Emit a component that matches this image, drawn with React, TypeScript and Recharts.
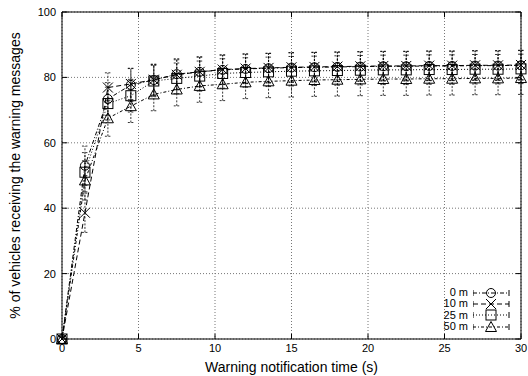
import React from 'react';
import {
  LineChart, Line, XAxis, YAxis, CartesianGrid, ErrorBar, ReferenceLine,
} from 'recharts';

// time axis (s)
const times = [0, 1.5, 3, 4.5, 6, 7.5, 9, 10.5, 12, 13.5, 15, 16.5, 18, 19.5, 21, 22.5, 24, 25.5, 27, 28.5, 30];

// % of vehicles receiving the warning, per distance
const d0 = [0, 53, 73.4, 77.7, 79.2, 81, 81.7, 82.3, 82.6, 82.8, 83, 83.1, 83.2, 83.3, 83.4, 83.4, 83.5, 83.5, 83.6, 83.6, 83.7];
const d10 = [0, 38.6, 76.9, 78, 79.3, 80.8, 81.7, 82.4, 82.7, 82.9, 83.1, 83.2, 83.3, 83.4, 83.5, 83.5, 83.6, 83.6, 83.7, 83.7, 83.8];
const d25 = [0, 51, 72, 74.4, 78.9, 79.7, 80.4, 81.2, 81.5, 81.7, 81.9, 82, 82.1, 82.2, 82.3, 82.3, 82.4, 82.4, 82.5, 82.5, 82.6];
const d50 = [0, 48.5, 67.5, 71.2, 74.8, 76.3, 77.4, 77.9, 78.5, 78.8, 79, 79.2, 79.3, 79.4, 79.5, 79.5, 79.6, 79.6, 79.7, 79.7, 79.8];

// error bar half-widths
const e0 = [0, 6, 5, 5, 4.8, 4.7, 4.6, 4.5, 4.5, 4.5, 4.5, 4.5, 4.5, 4.5, 4.5, 4.5, 4.5, 4.5, 4.5, 4.5, 4.5];
const e10 = [0, 6, 4.5, 4.8, 4.7, 4.6, 4.5, 4.5, 4.5, 4.5, 4.5, 4.5, 4.5, 4.5, 4.5, 4.5, 4.5, 4.5, 4.5, 4.5, 4.5];
const e25 = [0, 6, 5, 5, 4.8, 4.7, 4.6, 4.5, 4.5, 4.5, 4.5, 4.5, 4.5, 4.5, 4.5, 4.5, 4.5, 4.5, 4.5, 4.5, 4.5];
const e50 = [0, 6, 5.5, 5, 5, 5, 5, 5, 5, 5, 5, 5, 5, 5, 5, 5, 5, 5, 5, 5, 5];

const xTicks = [0, 5, 10, 15, 20, 25, 30];
const yTicks = [0, 20, 40, 60, 80, 100];

const seriesNames = ['0 m', '10 m', '25 m', '50 m'];
const marks = ['circle', 'cross', 'square', 'triangle'];
const dashes = ['4 2 1 2', '5 3', '1 2', '3 2 1 2'];

const data = times.map((t, i) => ({
  t, d0: d0[i], d10: d10[i], d25: d25[i], d50: d50[i],
  e0: e0[i], e10: e10[i], e25: e25[i], e50: e50[i],
}));

const FONT = '"Liberation Sans", Arial, sans-serif';

function Mark({ kind, cx, cy }: { kind: string; cx: number; cy: number }) {
  const s = { fill: 'none', stroke: '#000', strokeWidth: 1 };
  if (kind === 'circle') return <circle cx={cx} cy={cy} r={4.5} {...s} />;
  if (kind === 'square') return <rect x={cx - 5} y={cy - 5} width={10} height={10} {...s} />;
  if (kind === 'triangle')
    return <path d={`M${cx - 5.5},${cy + 4.5} L${cx + 5.5},${cy + 4.5} L${cx},${cy - 5.5} Z`} {...s} />;
  return <path d={`M${cx - 5},${cy - 5} L${cx + 5},${cy + 5} M${cx - 5},${cy + 5} L${cx + 5},${cy - 5}`} {...s} />;
}

const dotFor = (kind: string) => (p: any) => (
  <Mark key={`${kind}-${p.index}`} kind={kind} cx={p.cx} cy={p.cy} />
);

function LegendBox() {
  return (
    <div style={{ position: 'absolute', left: 420, top: 287, fontFamily: FONT, fontSize: 11 }}>
      {seriesNames.map((n, i) => (
        <div key={n} style={{ display: 'flex', alignItems: 'center', height: 11.3 }}>
          <span style={{ width: 48, textAlign: 'right', lineHeight: '11px' }}>{n}</span>
          <svg width={42} height={12} style={{ marginLeft: 5 }}>
            <line x1={0} y1={6} x2={36} y2={6} stroke="#000" strokeWidth={1} strokeDasharray={dashes[i]} />
            <line x1={0} y1={3} x2={0} y2={9} stroke="#000" strokeWidth={1} />
            <line x1={36} y1={3} x2={36} y2={9} stroke="#000" strokeWidth={1} />
            <Mark kind={marks[i]} cx={18} cy={6} />
          </svg>
        </div>
      ))}
    </div>
  );
}

export default function App() {
  const keys = ['d0', 'd10', 'd25', 'd50'];
  const errs = ['e0', 'e10', 'e25', 'e50'];
  return (
    <div style={{ position: 'absolute', left: 0, top: 0, width: 528, height: 376, background: '#fff' }}>
      <LineChart width={528} height={376} data={data} margin={{ top: 12, right: 7, left: 0, bottom: 0 }}>
        <CartesianGrid stroke="#777" strokeDasharray="1 2" horizontalValues={yTicks} verticalValues={xTicks} />
        <XAxis
          dataKey="t" type="number" domain={[0, 30]} ticks={xTicks} height={37}
          stroke="#000" tickLine={false} tickSize={3} tickMargin={2}
          tick={{ fill: '#000', fontSize: 11, fontFamily: FONT }}
          label={{ value: 'Warning notification time (s)', position: 'insideBottom', offset: 4, style: { fontSize: 14, fontFamily: FONT, fill: '#000' } }}
        />
        <YAxis
          type="number" domain={[0, 100]} ticks={yTicks} width={62}
          stroke="#000" tickLine={false} tickSize={4} tickMargin={2}
          tick={{ fill: '#000', fontSize: 11, fontFamily: FONT }}
          label={{ value: '% of vehicles receiving the warning messages', angle: -90, position: 'insideLeft', offset: 15, style: { textAnchor: 'middle', fontSize: 14, fontFamily: FONT, fill: '#000' } }}
        />
        <ReferenceLine y={100} stroke="#000" strokeWidth={1} />
        <ReferenceLine x={30} stroke="#000" strokeWidth={1} />
        {xTicks.map(t => (
          <ReferenceLine key={`xb${t}`} segment={[{ x: t, y: 0 }, { x: t, y: 1.6 }]} stroke="#000" />
        ))}
        {xTicks.map(t => (
          <ReferenceLine key={`xt${t}`} segment={[{ x: t, y: 100 }, { x: t, y: 98.4 }]} stroke="#000" />
        ))}
        {yTicks.map(t => (
          <ReferenceLine key={`yl${t}`} segment={[{ x: 0, y: t }, { x: 0.35, y: t }]} stroke="#000" />
        ))}
        {yTicks.map(t => (
          <ReferenceLine key={`yr${t}`} segment={[{ x: 30, y: t }, { x: 29.65, y: t }]} stroke="#000" />
        ))}
        {keys.map((k, i) => (
          <Line
            key={k} dataKey={k} name={seriesNames[i]} type="linear" stroke="#000" strokeWidth={1}
            strokeDasharray={dashes[i]} dot={dotFor(marks[i])} activeDot={false} isAnimationActive={false}
          >
            <ErrorBar dataKey={errs[i]} direction="y" width={3} stroke="#000" strokeWidth={0.8} strokeDasharray="2 1.5" />
          </Line>
        ))}
      </LineChart>
      <LegendBox />
    </div>
  );
}
